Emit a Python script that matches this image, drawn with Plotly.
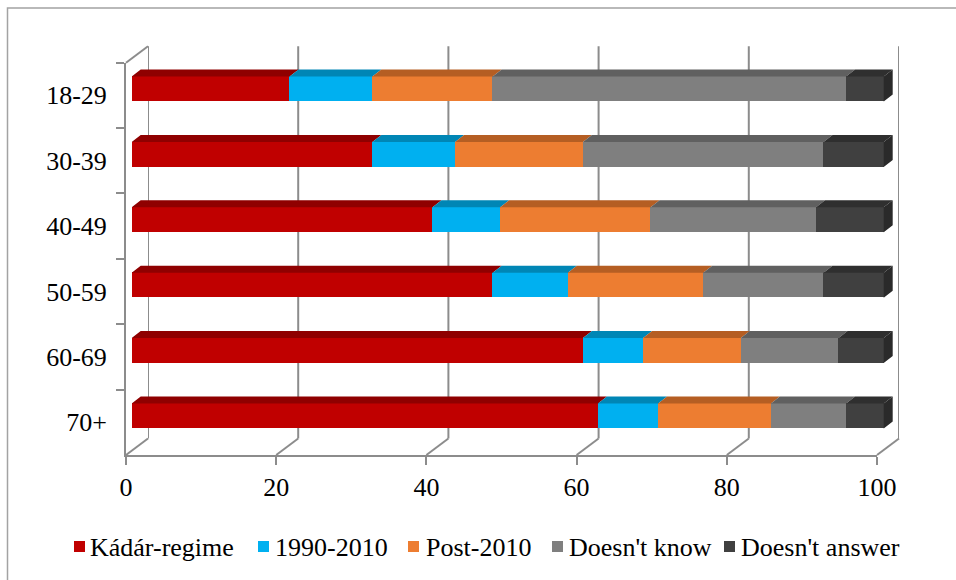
import plotly.graph_objects as go

# ---- data -------------------------------------------------------------
age_groups = ["18-29", "30-39", "40-49", "50-59", "60-69", "70+"]
kadar_regime = [21, 32, 40, 48, 60, 62]
period_1990_2010 = [11, 11, 9, 10, 8, 8]
post_2010 = [16, 17, 20, 18, 13, 15]
doesnt_know = [47, 32, 22, 16, 13, 10]
doesnt_answer = [5, 8, 9, 8, 6, 5]
series_names = ["Kádár-regime", "1990-2010", "Post-2010", "Doesn't know", "Doesn't answer"]
x_tick_values = [0, 20, 40, 60, 80, 100]

# ---- styling -----------------------------------------------------------
W, H = 956, 580
FONT = "Liberation Serif"
FRONT_COLORS = ["#C00000", "#00B0F0", "#ED7D31", "#7F7F7F", "#404040"]
TOP_COLORS = ["#8F0000", "#0086B5", "#B55E23", "#606060", "#2F2F2F"]
CAP_COLOR = "#2A2A2A"
FRAME = "#8C8C8C"


def fx(px):
    return px / W


def fy(py):
    return 1 - py / H


# pixel geometry of the 3-D box
FRONT_X0, FRONT_X100 = 126.0, 877.0        # front floor edge (tick labels)
FRONT_TOP, FRONT_BOT = 62.7, 455.0         # front category span
DEPTH_DX, DEPTH_DY = 22.0, -16.5           # front -> back wall offset
BAR_X0, BAR_SCALE = 131.7, 7.52            # bar face: px of value 0, px per unit
BAR_C0, PITCH = 89.0, 65.4                 # centre of first bar face, row pitch
BAR_W = 25.0 / PITCH                       # bar thickness in row units
TOP_DX = 9.0 / BAR_SCALE                   # top-face depth, value units
TOP_DY = 7.0 / PITCH                       # top-face depth, row units


def front_px(v):
    return FRONT_X0 + (FRONT_X100 - FRONT_X0) * v / 100.0


series = [kadar_regime, period_1990_2010, post_2010, doesnt_know, doesnt_answer]
rows = list(range(len(age_groups)))

fig = go.Figure()

# back wall (subplot xy, drawn first)
fig.add_trace(go.Scatter(x=[0, 100], y=[0, 1], mode="markers",
                         marker=dict(opacity=0), hoverinfo="skip",
                         showlegend=False, xaxis="x", yaxis="y"))

# front frame with category labels and value ticks (subplot x2y2)
fig.add_trace(go.Scatter(x=[0] * len(age_groups), y=age_groups, mode="markers",
                         marker=dict(opacity=0), hoverinfo="skip",
                         showlegend=False, xaxis="x2", yaxis="y2"))

# stacked bar faces (subplot x3y3, on top)
for name, vals, col in zip(series_names, series, FRONT_COLORS):
    fig.add_trace(go.Bar(x=vals, y=rows, orientation="h", name=name,
                         marker=dict(color=col, line=dict(width=0)),
                         width=BAR_W, showlegend=False,
                         xaxis="x3", yaxis="y3"))

# top faces of every segment
hw = BAR_W / 2
cum = [0.0] * len(rows)
for vals, col in zip(series, TOP_COLORS):
    xs, ys = [], []
    for i in rows:
        s, e = cum[i], cum[i] + vals[i]
        xs += [s, e, e + TOP_DX, s + TOP_DX, s, None]
        ys += [i - hw, i - hw, i - hw - TOP_DY, i - hw - TOP_DY, i - hw, None]
        cum[i] = e
    fig.add_trace(go.Scatter(x=xs, y=ys, mode="lines", fill="toself",
                             fillcolor=col, line=dict(width=0),
                             hoverinfo="skip", showlegend=False,
                             xaxis="x3", yaxis="y3"))

# right-hand end caps
xs, ys = [], []
for i in rows:
    t = cum[i]
    xs += [t, t + TOP_DX, t + TOP_DX, t, t, None]
    ys += [i - hw, i - hw - TOP_DY, i + hw - TOP_DY, i + hw, i - hw, None]
fig.add_trace(go.Scatter(x=xs, y=ys, mode="lines", fill="toself",
                         fillcolor=CAP_COLOR, line=dict(width=0),
                         hoverinfo="skip", showlegend=False,
                         xaxis="x3", yaxis="y3"))

shapes = []
# back-wall verticals at each value tick
for v in x_tick_values:
    shapes.append(dict(type="line", xref="x", yref="y domain", layer="below",
                       x0=v, x1=v, y0=0, y1=1,
                       line=dict(color=FRAME, width=2)))
# floor diagonals at each value tick and the left-wall top edge
for v in x_tick_values:
    shapes.append(dict(type="line", xref="paper", yref="paper", layer="below",
                       x0=fx(front_px(v)), y0=fy(FRONT_BOT),
                       x1=fx(front_px(v) + DEPTH_DX), y1=fy(FRONT_BOT + DEPTH_DY),
                       line=dict(color=FRAME, width=2)))
shapes.append(dict(type="line", xref="paper", yref="paper", layer="below",
                   x0=fx(FRONT_X0), y0=fy(FRONT_TOP),
                   x1=fx(FRONT_X0 + DEPTH_DX), y1=fy(FRONT_TOP + DEPTH_DY),
                   line=dict(color=FRAME, width=2)))
# chart border
shapes.append(dict(type="rect", xref="paper", yref="paper", layer="below",
                   x0=fx(7.5), y0=-0.05, x1=1.05, y1=fy(8),
                   line=dict(color="#A3A3A3", width=1.5)))

# legend
legend_square_x = [74, 258, 408, 552, 724]
legend_text_x = [88, 273, 424, 567, 739]
annotations = []
for name, col, sx, tx in zip(series_names, FRONT_COLORS, legend_square_x, legend_text_x):
    shapes.append(dict(type="rect", xref="paper", yref="paper",
                       x0=fx(sx), x1=fx(sx + 11), y0=fy(552), y1=fy(541),
                       fillcolor=col, line=dict(width=0)))
    annotations.append(dict(text=name, xref="paper", yref="paper",
                            x=fx(tx), y=fy(547), xanchor="left", yanchor="middle",
                            showarrow=False, font=dict(family=FONT, size=26, color="black")))

fig.update_layout(
    template="none",
    width=W, height=H,
    margin=dict(l=0, r=0, t=0, b=0, pad=0, autoexpand=False),
    font=dict(family=FONT, size=26, color="black"),
    paper_bgcolor="white", plot_bgcolor="rgba(0,0,0,0)",
    barmode="stack", bargap=0, hovermode=False,
    shapes=shapes, annotations=annotations,
    xaxis=dict(domain=[fx(FRONT_X0 + DEPTH_DX), fx(FRONT_X100 + DEPTH_DX)],
               range=[0, 100], anchor="y", visible=False, fixedrange=True),
    yaxis=dict(domain=[fy(FRONT_BOT + DEPTH_DY), fy(FRONT_TOP + DEPTH_DY)],
               range=[0, 1], anchor="x", visible=False, fixedrange=True),
    xaxis2=dict(domain=[fx(FRONT_X0), fx(FRONT_X100)], range=[0, 100],
                anchor="y2", tickvals=x_tick_values, showgrid=False, zeroline=False,
                showline=True, linecolor=FRAME, linewidth=2,
                ticks="outside", ticklen=8, tickwidth=2, tickcolor=FRAME,
                tickfont=dict(family=FONT, size=26, color="black"),
                automargin=False, fixedrange=True),
    yaxis2=dict(domain=[fy(FRONT_BOT), fy(FRONT_TOP)], anchor="x2",
                type="category", categoryorder="array", categoryarray=age_groups,
                range=[len(age_groups) - 0.5, -0.5], tickson="boundaries",
                showgrid=False, zeroline=False,
                showline=True, linecolor=FRAME, linewidth=2,
                ticks="outside", ticklen=8, tickwidth=2, tickcolor=FRAME,
                tickfont=dict(family=FONT, size=26, color="black"),
                ticklabelstandoff=12, automargin=False, fixedrange=True),
    xaxis3=dict(domain=[fx(BAR_X0 - BAR_SCALE), fx(BAR_X0 + 103 * BAR_SCALE)],
                range=[-1, 103], anchor="y3", visible=False, fixedrange=True),
    yaxis3=dict(domain=[fy(BAR_C0 + (len(age_groups) - 0.5) * PITCH), fy(BAR_C0 - 0.5 * PITCH)],
                range=[len(age_groups) - 0.5, -0.5], anchor="x3", visible=False,
                fixedrange=True),
)

fig.write_html("out.html")
